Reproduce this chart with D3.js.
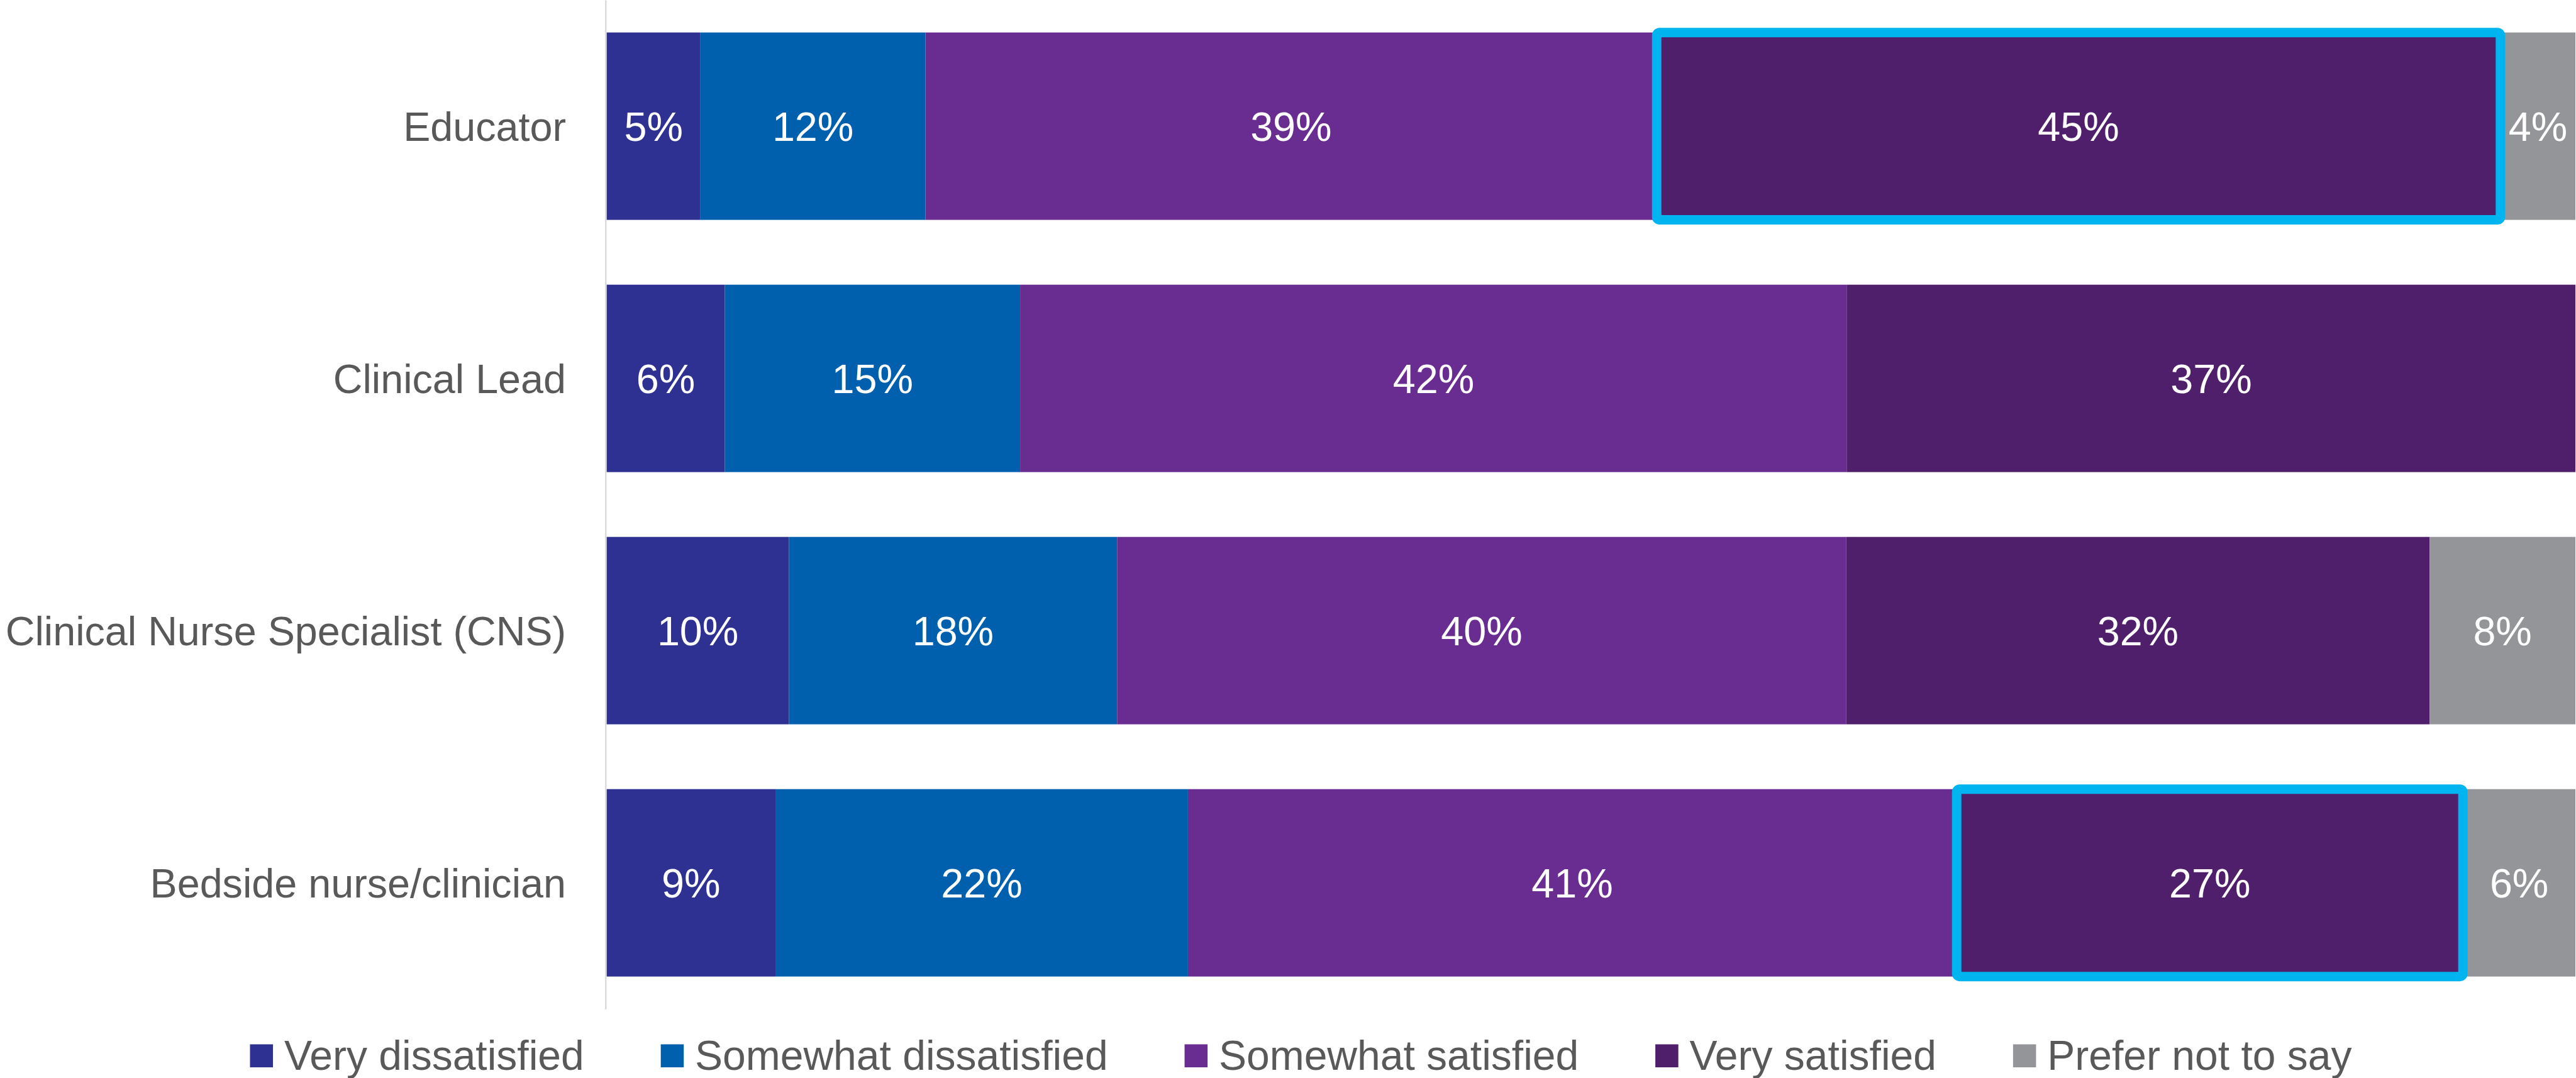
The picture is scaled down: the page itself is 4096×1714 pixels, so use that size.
<!DOCTYPE html>
<html>
<head>
<meta charset="utf-8">
<script src="https://cdn.jsdelivr.net/npm/d3@7"></script>
<style>
  html, body { margin: 0; padding: 0; background: #ffffff; overflow: hidden; }
  svg { display: block; }
  text { font-family: "Liberation Sans", Arial, sans-serif; }
</style>
</head>
<body>
<svg id="chart"></svg>
<script>
// Satisfaction by role, shown as 100% stacked horizontal bars
const categories = ["Educator", "Clinical Lead", "Clinical Nurse Specialist (CNS)", "Bedside nurse/clinician"];
const seriesNames = ["Very dissatisfied", "Somewhat dissatisfied", "Somewhat satisfied", "Very satisfied", "Prefer not to say"];
const veryDissatisfied     = [5, 6, 10, 9];
const somewhatDissatisfied = [12, 15, 18, 22];
const somewhatSatisfied    = [39, 42, 40, 41];
const verySatisfied        = [45, 37, 32, 27];
const preferNotToSay       = [4, 0, 8, 6];
const seriesColors = ["#2e3092", "#0060ae", "#692c91", "#4f1f6b", "#939598"];
// segments outlined for emphasis
const highlighted = [
  { category: "Educator", series: "Very satisfied" },
  { category: "Bedside nurse/clinician", series: "Very satisfied" }
];

const W = 4369, H = 1828;
const svg = d3.select("#chart")
  .attr("width", 4096).attr("height", 1714)
  .attr("viewBox", `0 0 ${W} ${H}`);

const seriesValues = [veryDissatisfied, somewhatDissatisfied, somewhatSatisfied, verySatisfied, preferNotToSay];
const rows = categories.map((c, i) => {
  const r = { category: c };
  seriesNames.forEach((s, j) => { r[s] = seriesValues[j][i]; });
  return r;
});

const stacked = d3.stack().keys(seriesNames).offset(d3.stackOffsetExpand)(rows);

const axisX = 1027;
const x = d3.scaleLinear().domain([0, 1]).range([1029, 4368]);
const y = d3.scaleBand().domain(categories).range([0, 1711])
  .paddingInner(0.257).paddingOuter(0.1285);
const color = d3.scaleOrdinal().domain(seriesNames).range(seriesColors);

const fontSize = 69;
const legendFontSize = 70.4;
const textGray = "#595959";

// category axis
const axis = svg.append("g")
  .attr("transform", `translate(${axisX},0)`)
  .call(d3.axisLeft(y).tickSizeInner(0).tickSizeOuter(0).tickPadding(67));
axis.select(".domain").attr("stroke", "#d9d9d9").attr("stroke-width", 2.5);
axis.selectAll(".tick text")
  .attr("font-size", fontSize)
  .attr("font-family", "'Liberation Sans', Arial, sans-serif")
  .attr("fill", textGray)
  .attr("dy", "0.36em");

// bar segments
const layers = svg.append("g").selectAll("g")
  .data(stacked).join("g")
  .attr("fill", d => color(d.key));

layers.selectAll("rect")
  .data(d => d.map(p => ({ key: d.key, p })))
  .join("rect")
  .attr("x", d => x(d.p[0]))
  .attr("y", d => y(d.p.data.category))
  .attr("width", d => Math.max(0, x(d.p[1]) - x(d.p[0])))
  .attr("height", y.bandwidth());

// value labels
const labels = svg.append("g");
stacked.forEach(layer => {
  layer.forEach(p => {
    const v = p.data[layer.key];
    if (!v) return;
    labels.append("text")
      .attr("x", (x(p[0]) + x(p[1])) / 2)
      .attr("y", y(p.data.category) + y.bandwidth() / 2 + 25)
      .attr("text-anchor", "middle")
      .attr("font-size", fontSize)
      .attr("fill", "#ffffff")
      .text(v + "%");
  });
});

// emphasis outlines
const hl = svg.append("g");
highlighted.forEach(h => {
  const layer = stacked.find(l => l.key === h.series);
  const p = layer[categories.indexOf(h.category)];
  hl.append("rect")
    .attr("x", x(p[0]))
    .attr("y", y(h.category))
    .attr("width", x(p[1]) - x(p[0]))
    .attr("height", y.bandwidth())
    .attr("rx", 5)
    .attr("fill", "none")
    .attr("stroke", "#00b4f0")
    .attr("stroke-width", 16);
});

// legend
const legend = svg.append("g");
let lx = 424;
seriesNames.forEach((s, i) => {
  const item = legend.append("g").attr("transform", `translate(${lx},0)`);
  item.append("rect")
    .attr("x", 0).attr("y", 1771)
    .attr("width", 39).attr("height", 39)
    .attr("fill", color(s));
  const t = item.append("text")
    .attr("x", 58).attr("y", 1814)
    .attr("font-size", legendFontSize)
    .attr("fill", textGray)
    .text(s);
  lx += 58 + t.node().getComputedTextLength() + 130;
});
</script>
</body>
</html>
